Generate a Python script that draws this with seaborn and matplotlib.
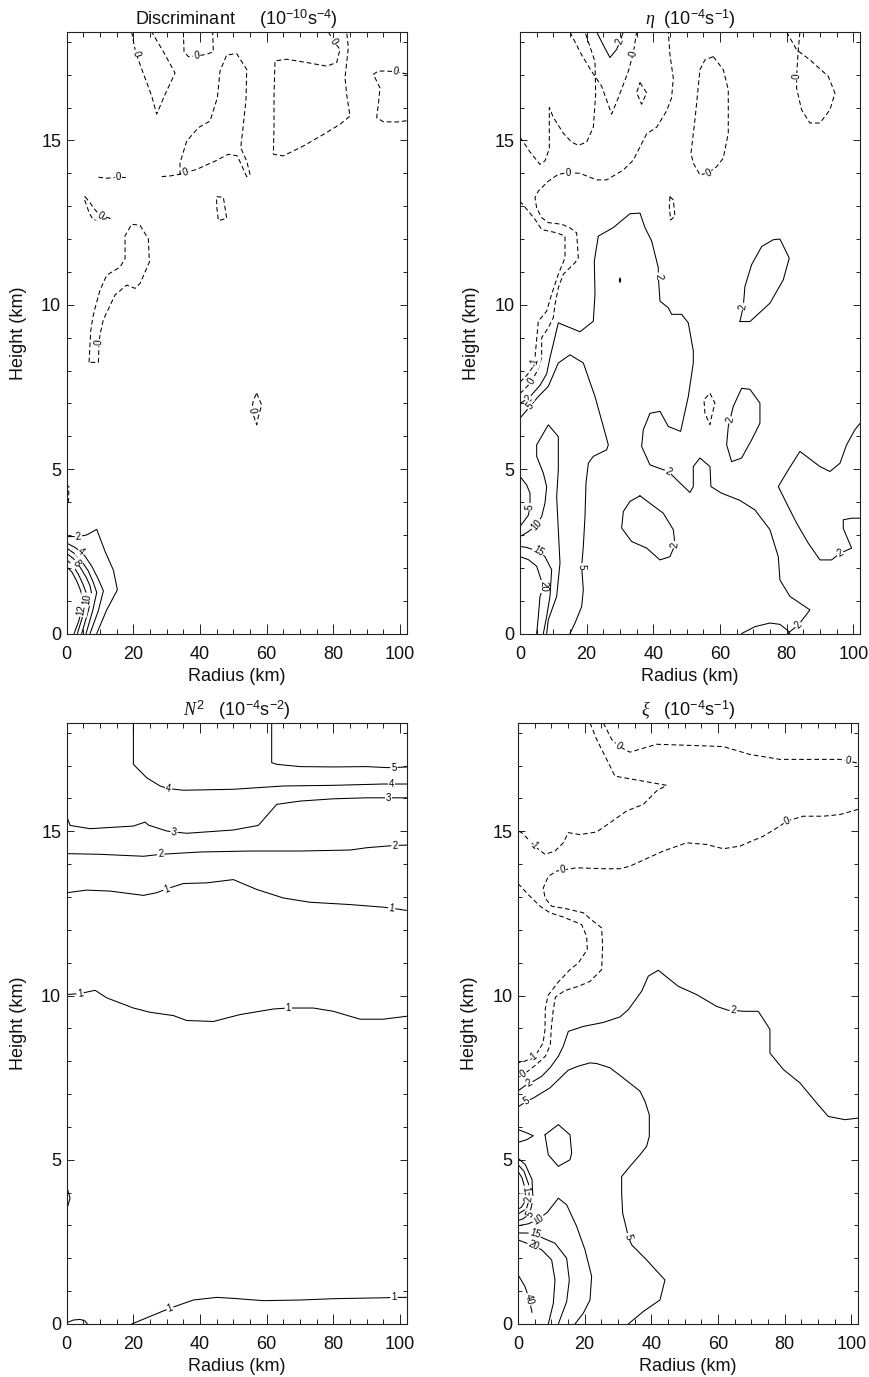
import math
import matplotlib
matplotlib.use("Agg")
import matplotlib.pyplot as plt
import pandas as pd
import seaborn as sns
from matplotlib.ticker import MultipleLocator, FixedLocator

# ---------------------------------------------------------------------------
# Contour paths, (radius km, height km)
# ---------------------------------------------------------------------------

# Discriminant (10^-10 s^-4)
disc_v = [(19.5, 18.3), (20.2, 17.9), (20.8, 17.65), (21.5, 17.45), (23.5, 16.9), (25.5, 16.35),
          (27, 15.8), (29.5, 16.4), (32.5, 17.05), (29, 17.7), (25.5, 18.3)]
disc_cap = [(35, 18.3), (35.2, 17.7), (36.5, 17.55), (39, 17.57), (42, 17.62), (44, 17.7), (43.8, 18.3)]
disc_seg = [(9.5, 13.88), (12, 13.85), (15.5, 13.88), (18, 13.87)]
disc_tongue = [(28.5, 13.9), (31, 13.92), (34, 13.97), (35.5, 14.02), (39, 14.12), (44.5, 14.37),
               (48.5, 14.58), (51.2, 14.53), (52.8, 14.17), (54, 13.9), (55, 13.97), (54, 14.37),
               (52.2, 14.78), (52.8, 15.29), (53.8, 16.25), (54, 17.16), (51, 17.64), (48, 17.6),
               (46, 17.11), (45.2, 16.3), (43, 15.59), (39.5, 15.39), (36, 14.98), (34, 14.32), (34, 13.97)]
disc_box = [(78.5, 18.3), (80.2, 18.0), (82, 17.77), (81, 17.37), (78, 17.26), (72, 17.37), (66, 17.47),
            (62.5, 17.42), (62.2, 16.4), (62.2, 15.39), (62, 14.58), (65, 14.53), (71, 14.83),
            (77, 15.18), (82, 15.49), (85, 15.74), (84, 16.4), (83.5, 16.91), (84.5, 17.82), (84, 18.3)]
disc_right = [(102.1, 17.02), (98.7, 17.09), (96, 17.11), (93.5, 17.11), (92, 17.01), (94, 16.6),
              (93.5, 16.1), (93, 15.69), (95, 15.57), (99, 15.56), (102.1, 15.6)]
disc_loop_a = [(5.5, 13.29), (7, 13.1), (8.5, 12.89), (10, 12.72), (13, 12.63), (8, 12.58),
               (6.8, 12.78), (5.2, 13.24), (5.5, 13.29)]
disc_loop_b = [(45, 13.29), (47, 13.27), (48, 12.63), (45.5, 12.56), (45, 12.99), (45, 13.29)]
disc_loop_c = [(6.7, 8.25), (7.2, 9.2), (7.8, 9.6), (8.5, 9.9), (10, 10.45), (12, 10.9), (16, 11.15),
               (17.5, 11.4), (17.5, 12.1), (19.5, 12.45), (22, 12.42), (24.5, 12.0), (24.8, 11.3),
               (22, 10.65), (20.5, 10.5), (18, 10.6), (14.5, 10.3), (11, 9.55), (10, 9.1),
               (9.7, 8.85), (9.5, 8.25), (6.7, 8.25)]
disc_loop_d = [(57, 7.31), (58.5, 6.95), (57.5, 6.6), (57, 6.35), (55.5, 6.8), (56, 7.1), (57, 7.31)]
disc_edge = [(0, 3.75), (0.6, 4.1), (0.6, 4.5)]
disc_p2 = [(0, 2.95), (3.5, 2.95), (6, 3.0), (9, 3.17), (11.5, 2.5), (14, 1.93), (15.2, 1.33), (12, 0.72), (9, 0)]
disc_p4 = [(0, 2.75), (2.5, 2.62), (4.3, 2.48), (5.5, 2.35), (7.5, 2.05), (9.5, 1.65), (11, 1.3), (9.5, 0.7), (7, 0)]
disc_p6 = [(0, 2.6), (2.5, 2.42), (4.5, 2.2), (6.5, 1.9), (8, 1.55), (9, 1.25), (7.8, 0.7), (5.8, 0)]
disc_p8 = [(0, 2.44), (2, 2.28), (3, 2.15), (4, 2.02), (5.8, 1.72), (7, 1.45), (7.5, 1.2), (6.5, 0.7), (4.5, 0)]
disc_p10 = [(0, 2.24), (1.8, 2.08), (3.5, 1.8), (4.8, 1.52), (5.8, 1.25), (6, 1.05), (5, 0.6), (3.2, 0)]
disc_p12 = [(0, 2.03), (1.5, 1.88), (3, 1.6), (4, 1.35), (4.8, 1.1), (4.5, 0.7), (3.5, 0.35), (2.2, 0)]

# Absolute vorticity eta (10^-4 s^-1)
eta_c1 = [(0, 15.1), (3, 14.65), (6, 14.27), (7.5, 14.38), (8.8, 14.75), (8.8, 16.0), (10, 15.7),
          (13, 15.22), (15.5, 14.95), (17.5, 14.85), (20, 14.95), (22, 15.4), (22.7, 16.4),
          (22.5, 17.4), (19.5, 18.3)]
eta_v = [(15, 18.3), (18.5, 17.6), (21.5, 17.1), (24.5, 16.65), (27.5, 15.8), (29.5, 16.3),
         (32.5, 17.1), (34, 17.65), (35, 18.3)]
eta_top2 = [(23, 18.3), (25, 17.9), (27, 17.52), (29, 17.77), (30, 18.0), (31, 18.3)]
eta_diamond = [(36, 16.76), (38, 16.45), (36.5, 16.1), (35, 16.45), (36, 16.76)]
eta_a = [(0, 7.3), (2, 7.5), (3.5, 7.68), (5.5, 8.05), (6.5, 8.4), (6.5, 9.0), (8.5, 9.3), (10, 9.61),
         (10.5, 10.01), (11.5, 10.52), (13, 10.93), (16.5, 11.28), (17.5, 11.43), (17, 12.19),
         (15, 12.34), (12.5, 12.45), (8.5, 12.5), (6.5, 12.65), (5, 12.95), (4.5, 13.26), (5.5, 13.46),
         (8.5, 13.76), (11.5, 13.97), (14.5, 14.02), (18, 14.0), (23, 13.8), (26, 13.8), (31, 14.1),
         (34, 14.4), (36, 14.8), (38, 15.2), (41, 15.4), (44, 15.9), (45.5, 16.3), (46, 16.9),
         (45, 17.6), (44.5, 18.3)]
eta_b = [(0, 7.65), (2, 7.85), (3.8, 8.1), (4.3, 8.25), (4.5, 8.4), (5.5, 9.5), (8, 9.81), (9.5, 10.32),
         (11.5, 10.93), (13.5, 11.43), (13.5, 12.09), (11, 12.19), (6.5, 12.29), (4.5, 12.6),
         (2.5, 12.85), (0, 13.15)]
eta_main2 = [(0, 7.0), (2.5, 7.15), (6, 7.55), (8, 7.9), (9, 8.39), (11.5, 9.45), (18, 9.18), (22, 9.5),
             (22.5, 10.32), (22.3, 11.33), (23.5, 12.09), (28, 12.35), (33, 12.77), (36, 12.79),
             (37.5, 12.35), (39.5, 11.94), (41.5, 11.13), (41.5, 10.87), (42, 10.11), (44.5, 9.91),
             (45.5, 9.71), (48.5, 9.71), (50.5, 9.45), (52, 8.6), (52, 8.23), (50.5, 7.21), (48.2, 6.15),
             (44.5, 6.3), (42, 6.76), (39, 6.7), (37, 6.2), (36.5, 5.69), (39, 5.13), (44.5, 4.93),
             (47.5, 4.63), (51, 4.29), (52, 4.47), (52, 5.08), (54, 5.34), (57, 5.08), (57.3, 4.47),
             (60.5, 4.27), (66, 4.05), (70.5, 3.76), (75, 3.16), (77.5, 2.34), (78, 1.63), (81, 1.13),
             (87, 0.72), (85.5, 0.52), (83.5, 0.26), (81, 0.06), (80.5, 0)]
eta_arc = [(66.5, 0), (70.5, 0.21), (75, 0.32), (78, 0.28), (80.5, 0.08), (81, 0.0)]
eta_oval_r = [(66, 9.49), (69, 9.49), (75, 10.05), (79, 10.76), (80.8, 11.42), (78, 12.0), (76, 11.98),
              (72.5, 11.77), (69.5, 11.22), (67.5, 10.56), (67, 9.95), (66, 9.49)]
eta_tiny = [(29.8, 10.75), (30, 10.82), (30.2, 10.75), (30, 10.68), (29.8, 10.75)]
eta_oval_top = [(58, 17.55), (61, 17.15), (62.5, 16.54), (62.5, 15.22), (61, 14.46), (59, 14.2),
                (56.5, 14.02), (54, 13.95), (52, 14.31), (51.3, 14.61), (52.5, 15.63), (54, 17.15),
                (55.5, 17.45), (58, 17.55)]
eta_drop = [(80, 18.3), (83, 17.76), (87, 17.45), (92.5, 16.95), (94.5, 16.44), (93, 15.93), (90, 15.53),
            (87, 15.53), (84.5, 15.93), (83, 16.59), (83, 16.94), (83.5, 17.76), (84, 18.3)]
eta_dash_a = [(45, 13.29), (46, 13.19), (46.5, 12.69), (45.2, 12.58), (44.8, 12.99), (45, 13.29)]
eta_dash_b = [(57, 7.31), (58.5, 7.01), (57.5, 6.6), (57, 6.35), (55.5, 6.7), (55.2, 7.11), (57, 7.31)]
eta_oval_mid = [(66.5, 7.46), (69, 7.43), (72, 7.01), (72, 6.4), (69.5, 5.89), (66.5, 5.34), (63.5, 5.23),
                (62, 5.74), (62.5, 6.3), (63, 6.5), (64, 6.91), (66.5, 7.46)]
eta_oval_low = [(36, 4.19), (43, 3.66), (46, 3.16), (46.5, 2.7), (45, 2.34), (42, 2.24), (38, 2.6),
                (33.5, 2.8), (30.5, 3.21), (31, 3.71), (33, 4.02), (36, 4.19)]
eta_right = [(102.1, 6.4), (100.5, 6.2), (98, 5.74), (96, 5.18), (93, 4.93), (90, 5.08), (84, 5.54),
             (80.5, 4.98), (77.5, 4.47), (80.5, 3.86), (83, 3.36), (86.5, 2.75), (90, 2.24), (93.5, 2.24),
             (96, 2.44), (99.5, 2.6), (97, 3.2), (97, 3.46), (99.5, 3.51), (102.1, 3.51)]
eta_5 = [(0, 6.55), (3, 6.91), (5.5, 7.21), (8.5, 7.52), (11.5, 8.23), (15, 8.48), (19, 8.23), (22.5, 7.21),
         (25, 6.3), (26.5, 5.74), (26, 5.59), (22, 5.39), (20.5, 5.18), (19.8, 4.57), (19.5, 3.56),
         (19, 2.65), (18.5, 2.04), (19, 1.33), (18.5, 0.82), (16.5, 0.32), (15, 0)]
eta_5_core = [(0, 4.78), (2, 4.52), (3, 4.27), (3, 3.86), (2.5, 3.6), (1.5, 3.46), (0, 3.26)]
eta_10 = [(8, 0), (8.5, 0.42), (11, 1.13), (12, 2.14), (11.5, 3.15), (11, 4.17), (11.5, 4.98), (11.5, 5.99),
          (8.5, 6.35), (5, 5.74), (5, 5.39), (7, 4.88), (8, 4.47), (7.5, 3.97), (6.5, 3.56), (5, 3.31),
          (2.5, 3.1), (0, 2.95)]
eta_15 = [(0, 2.65), (2, 2.62), (4, 2.55), (5.5, 2.5), (7.5, 2.34), (9.5, 1.94), (9, 1.13), (8, 0.52), (7, 0)]
eta_20 = [(0, 2.34), (2.5, 2.25), (5, 2.05), (6, 1.74), (7, 1.43), (6, 1.13), (5.5, 0.52), (5, 0)]

# Static stability N^2 (10^-4 s^-2)
n2_5 = [(61.5, 18.3), (61.5, 17.09), (63, 17.04), (70, 16.97), (80, 16.96), (90, 16.97), (96, 16.94),
        (98.2, 16.94), (102.1, 16.96)]
n2_4 = [(20, 18.3), (20, 17.04), (24, 16.63), (28, 16.38), (30.5, 16.3), (35, 16.25), (50, 16.28),
        (65, 16.38), (80, 16.4), (95, 16.44), (97.5, 16.44), (102.1, 16.44)]
n2_3 = [(0, 15.46), (1, 15.18), (7, 15.08), (20, 15.16), (23.5, 15.28), (24.5, 15.19), (30, 15.01),
        (32.2, 14.98), (36, 14.94), (50, 15.04), (57.5, 15.18), (63, 15.82), (70, 15.92), (80, 15.99),
        (90, 16.02), (96.5, 16.02), (102.1, 16.02)]
n2_2 = [(0, 14.32), (10, 14.3), (23, 14.24), (28.2, 14.3), (40, 14.37), (55, 14.4), (70, 14.4), (85, 14.43),
        (90, 14.5), (96, 14.55), (98.5, 14.57), (102.1, 14.58)]
n2_1a = [(0, 13.13), (6, 13.21), (13, 13.18), (23, 13.05), (27, 13.13), (30, 13.25), (35, 13.41), (42, 13.43),
         (50, 13.53), (57, 13.23), (65, 12.97), (73, 12.84), (85, 12.77), (95, 12.69), (97.5, 12.66),
         (102.1, 12.59)]
n2_1b = [(0, 10.03), (4, 10.06), (8.5, 10.16), (12, 9.93), (20, 9.62), (25, 9.49), (32, 9.39), (36, 9.24),
         (44, 9.21), (52, 9.42), (62, 9.59), (66.5, 9.62), (74, 9.62), (80, 9.52), (88, 9.28), (95, 9.28),
         (102.1, 9.37)]
n2_1c = [(19.5, 0), (25, 0.23), (31, 0.48), (38, 0.73), (45, 0.81), (50, 0.78), (59, 0.71), (70, 0.73),
         (80, 0.77), (96, 0.8), (98.2, 0.81), (102.1, 0.81)]
n2_edge = [(0, 4.19), (1, 3.83), (0, 3.48)]
n2_foot = [(0, 0.04), (2, 0.12), (4, 0.14), (5.5, 0.09), (6.2, 0)]

# Relative vorticity xi (10^-4 s^-1)
xi_0top = [(25.6, 18.3), (28.1, 17.8), (30.1, 17.6), (33.6, 17.41), (41.6, 17.65), (50.6, 17.62),
           (61.6, 17.58), (69.6, 17.34), (78.6, 17.19), (88.6, 17.19), (96.6, 17.19), (99.1, 17.14),
           (102.1, 17.07)]
xi_m1top = [(21.6, 18.3), (23.6, 17.8), (26.6, 17.19), (29.1, 16.68), (34.6, 16.58), (44.6, 16.4),
            (41.6, 16.23), (37.6, 15.82), (32.6, 15.62), (27.6, 15.26), (23.6, 14.98), (18.6, 14.9),
            (15.1, 14.96), (13.6, 14.65), (11.1, 14.4), (8.1, 14.3), (5.6, 14.5), (4.6, 14.6),
            (1.1, 14.96), (0, 15.01)]
xi_0mid = [(102.1, 15.67), (96.6, 15.51), (91.6, 15.46), (85.6, 15.46), (80.6, 15.31), (78.6, 15.16),
           (73.6, 14.85), (66.6, 14.55), (61.6, 14.47), (56.6, 14.6), (50.6, 14.65), (43.6, 14.4),
           (33.6, 13.94), (30.6, 13.86), (25.6, 13.86), (17.6, 13.89), (13.4, 13.82), (11.6, 13.79),
           (9.1, 13.63), (7.6, 13.28), (8.1, 12.97), (10.1, 12.72), (14.6, 12.64), (19.6, 12.52),
           (22.6, 12.26), (25.1, 12.06), (25.4, 11.5), (25.1, 10.79), (21.6, 10.43), (18.1, 10.28),
           (14, 10.15), (11.2, 9.95), (10.5, 9.5), (10, 9.0), (9.7, 8.5), (8.2, 8.15), (5.5, 7.9),
           (3, 7.7), (1.7, 7.6), (0, 7.5)]
xi_m1mid = [(0, 13.41), (3.6, 13.02), (6.6, 12.72), (9.6, 12.52), (13.6, 12.39), (19.1, 12.16),
            (20.6, 11.8), (20.8, 11.4), (18.1, 10.99), (15.6, 10.79), (12, 10.4), (9, 10.0), (8.2, 9.6),
            (8.1, 8.96), (7.5, 8.55), (6, 8.3), (4.7, 8.12), (2, 8.0), (0, 7.95)]
xi_2 = [(0, 7.1), (0.6, 7.14), (3.3, 7.34), (4.6, 7.39), (7.1, 7.54), (9.6, 7.8), (12.1, 8.15), (13.6, 8.46),
        (15.1, 8.91), (19.6, 9.06), (25.6, 9.18), (30.6, 9.35), (33.1, 9.57), (37.1, 10.13), (39.1, 10.59),
        (42.1, 10.77), (48.1, 10.28), (53.6, 10.03), (59.6, 9.67), (63.1, 9.55), (64.6, 9.55),
        (67.6, 9.52), (72.1, 9.52), (75.6, 8.97), (75.6, 8.25), (79.6, 7.75), (84.6, 7.34), (89.6, 6.73),
        (93.1, 6.32), (98.1, 6.22), (102.1, 6.27)]
xi_5 = [(0, 6.61), (2.6, 6.78), (4.6, 6.88), (9.6, 7.19), (15.1, 7.73), (18.1, 7.85), (21.6, 7.95),
        (23.6, 7.93), (27.6, 7.8), (31.6, 7.49), (36.6, 7.09), (38.1, 6.78), (39.4, 6.37), (39.4, 5.71),
        (38.6, 5.41), (36.6, 5.15), (33.6, 4.8), (31.1, 4.49), (31.1, 3.99), (31.4, 3.38), (33.1, 2.66),
        (34.1, 2.41), (38.6, 1.95), (44.1, 1.34), (42.6, 0.73), (37.6, 0.38), (33.1, 0)]
xi_10 = [(0, 2.99), (3.1, 3.05), (6.1, 3.19), (8.8, 3.4), (12.1, 3.83), (14.6, 3.63), (17.6, 2.97),
         (20.1, 2.26), (22.1, 1.45), (21.6, 0.73), (19.6, 0.33), (17.1, 0)]
xi_15 = [(0, 2.77), (2.6, 2.77), (5.1, 2.74), (7.6, 2.61), (11.1, 2.46), (14.6, 2.0), (15.4, 1.34),
         (14.6, 0.68), (12.1, 0)]
xi_20 = [(0, 2.56), (2.6, 2.46), (4.6, 2.38), (7.1, 2.26), (10.1, 1.95), (11.1, 1.34), (10.6, 0.63), (9.1, 0)]
xi_40 = [(0, 1.5), (2.1, 1.14), (3.4, 0.75), (4.2, 0.35)]
xi_lens = [(0, 5.92), (2.6, 5.82), (4.6, 5.73), (2.6, 5.61), (0, 5.53)]
xi_loop = [(8.1, 5.76), (12.1, 6.07), (15.6, 5.76), (16.1, 5.2), (15.6, 5.0), (12.1, 4.8), (9.1, 5.15), (8.1, 5.76)]
xi_eye5 = [(0, 5.05), (2.2, 4.85), (4.2, 4.4), (4.5, 3.8), (3.5, 3.35), (1.5, 3.2), (0, 3.15)]
xi_eye2 = [(0, 4.85), (1.8, 4.65), (3.2, 4.25), (3.4, 3.8), (2.5, 3.5), (0, 3.35)]
xi_eye1 = [(0, 4.65), (1.2, 4.45), (2.2, 4.1), (2.2, 3.75), (1, 3.55), (0, 3.5)]

# (level, path, vertices carrying an inline label)
disc_contours = [
    (0, disc_v, [2]), (0, disc_cap, [3]), (0, disc_seg, [2]), (0, disc_tongue, [3]),
    (0, disc_box, [1]), (0, disc_right, [1]), (0, disc_loop_a, [3]), (0, disc_loop_b, []),
    (0, disc_loop_c, [19]), (0, disc_loop_d, [4]), (0, disc_edge, []),
    (2, disc_p2, [1]), (4, disc_p4, [2]), (6, disc_p6, []), (8, disc_p8, [2]),
    (10, disc_p10, [5]), (12, disc_p12, [5]),
]
eta_contours = [
    (0, eta_c1, []), (0, eta_v, [7]), (2, eta_top2, [4]), (0, eta_diamond, []),
    (0, eta_a, [2, 23]), (-1, eta_b, [3]), (2, eta_main2, [1, 17, 33, 50]), (2, eta_arc, []),
    (2, eta_oval_r, [10]), (2, eta_tiny, []), (0, eta_oval_top, [6]), (0, eta_drop, [10]),
    (0, eta_dash_a, []), (0, eta_dash_b, []), (2, eta_oval_mid, [9]), (2, eta_oval_low, [3]),
    (2, eta_right, [14]), (5, eta_5, [1, 16]), (5, eta_5_core, [3]), (10, eta_10, [15]),
    (15, eta_15, [3]), (20, eta_20, [4]),
]
n2_contours = [
    (5, n2_5, [7]), (4, n2_4, [4, 10]), (3, n2_3, [7, 15]), (2, n2_2, [3, 10]),
    (1, n2_1a, [5, 14]), (1, n2_1b, [1, 11]), (1, n2_1c, [2, 10]), (1, n2_edge, []), (1, n2_foot, []),
]
xi_contours = [
    (0, xi_0top, [2, 11]), (-1, xi_m1top, [17]), (0, xi_0mid, [4, 16, 38]), (-1, xi_m1mid, [16]),
    (2, xi_2, [2, 20]), (5, xi_5, [1, 20]), (10, xi_10, [2]), (15, xi_15, [2]), (20, xi_20, [2]),
    (40, xi_40, [2]), (10, xi_lens, []), (10, xi_loop, []),
    (5, xi_eye5, [4]), (2, xi_eye2, [3]), (1, xi_eye1, [2]),
]

panel_titles = [
    "Discriminant     (10$^{-10}$s$^{-4}$)",
    r"$\eta$  (10$^{-4}$s$^{-1}$)",
    r"$N^{2}$   (10$^{-4}$s$^{-2}$)",
    r"$\xi$   (10$^{-4}$s$^{-1}$)",
]
x_ticks = [0, 20, 40, 60, 80, 100]
y_ticks = [0, 5, 10, 15]
r_max, z_max = 102.1, 18.3

# ---------------------------------------------------------------------------
sns.set_theme(style="ticks")
plt.rcParams["font.family"] = ["Liberation Sans", "DejaVu Sans"]
plt.rcParams["mathtext.fontset"] = "custom"
plt.rcParams["mathtext.rm"] = "Liberation Sans"
plt.rcParams["mathtext.it"] = "Liberation Serif:italic"
plt.rcParams["mathtext.bf"] = "Liberation Sans:bold"

fig = plt.figure(figsize=(8.7, 13.77), dpi=100)
boxes = [
    [0.0767, 0.5399, 0.3911, 0.4369],
    [0.5977, 0.5399, 0.3911, 0.4369],
    [0.0767, 0.0385, 0.3911, 0.4365],
    [0.5954, 0.0385, 0.3911, 0.4365],
]
dash_pattern = (0, (4.5, 2.8))


def label_angle(ax, path, i):
    p0 = path[max(i - 1, 0)]
    p1 = path[min(i + 1, len(path) - 1)]
    d0 = ax.transData.transform(p0)
    d1 = ax.transData.transform(p1)
    ang = math.degrees(math.atan2(d1[1] - d0[1], d1[0] - d0[0]))
    if ang > 90:
        ang -= 180
    elif ang < -90:
        ang += 180
    return ang


def draw_panel(ax, contours, title):
    ax.set_xlim(0, r_max)
    ax.set_ylim(0, z_max)
    for level, path, labels in contours:
        df = pd.DataFrame(path, columns=["radius", "height"])
        style = dash_pattern if level <= 0 else "-"
        sns.lineplot(data=df, x="radius", y="height", sort=False, estimator=None,
                     color="black", linewidth=0.75, linestyle=style, ax=ax, zorder=2)
        for i in labels:
            x, y = path[i]
            ax.text(x, y, str(level), fontsize=7, ha="center", va="center", color="black",
                    rotation=label_angle(ax, path, i), rotation_mode="anchor",
                    bbox=dict(boxstyle="square,pad=0.1", fc="white", ec="none"),
                    zorder=2.2, clip_on=True)
    ax.set_title(title, fontsize=13, pad=5, color="#111111")
    ax.set_xlabel("Radius (km)", fontsize=13, color="#111111")
    ax.set_ylabel("Height (km)", fontsize=13, color="#111111")
    ax.xaxis.set_label_coords(0.5, -0.057)
    ax.yaxis.set_label_coords(-0.117, 0.5)
    ax.xaxis.set_major_locator(FixedLocator(x_ticks))
    ax.yaxis.set_major_locator(FixedLocator(y_ticks))
    ax.set_xticklabels([str(t) for t in x_ticks])
    ax.set_yticklabels([str(t) for t in y_ticks])
    ax.xaxis.set_minor_locator(MultipleLocator(5))
    ax.yaxis.set_minor_locator(MultipleLocator(1))
    ax.tick_params(which="both", direction="in", top=True, right=True, width=0.7,
                   color="#222222", labelsize=13, labelcolor="#111111")
    ax.tick_params(axis="x", which="major", length=7, pad=9)
    ax.tick_params(axis="x", which="minor", length=3.6)
    ax.tick_params(axis="y", which="major", length=5, pad=4)
    ax.tick_params(axis="y", which="minor", length=2.8)
    for s in ax.spines.values():
        s.set_linewidth(0.8)
        s.set_color("#222222")
    ax.grid(False)


for box, contours, title in zip(boxes, [disc_contours, eta_contours, n2_contours, xi_contours], panel_titles):
    ax = fig.add_axes(box)
    draw_panel(ax, contours, title)

fig.savefig("out.png", dpi=100, facecolor="white")
